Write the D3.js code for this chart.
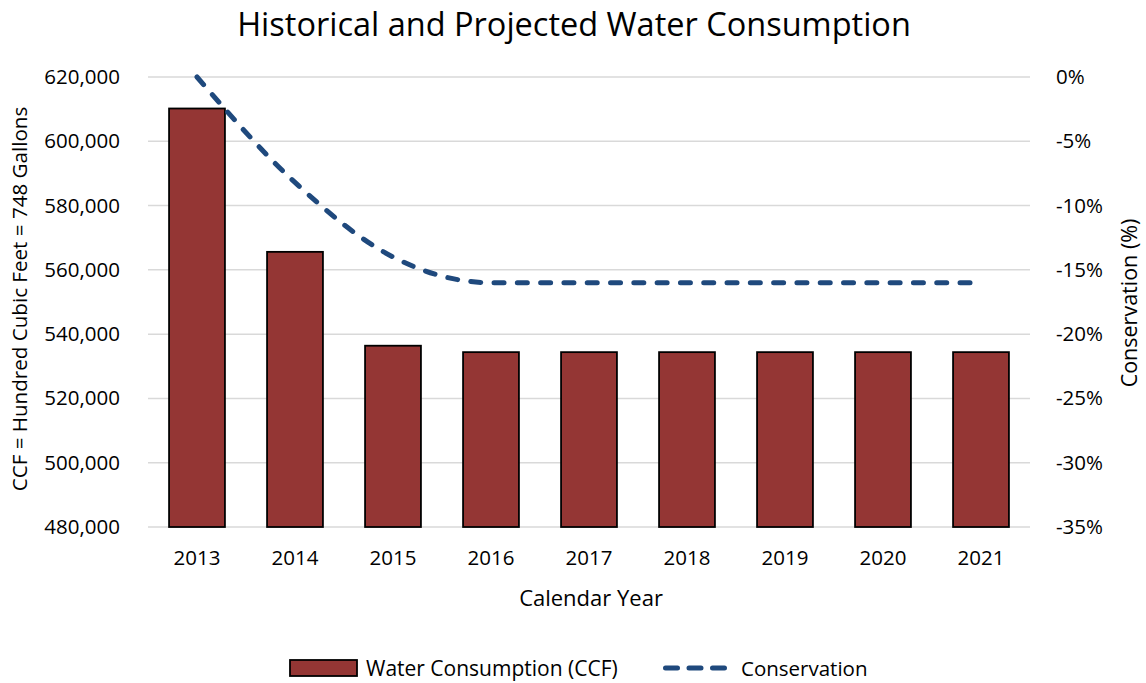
<!DOCTYPE html>
<html><head><meta charset="utf-8">
<script src="https://cdn.jsdelivr.net/npm/d3@7"></script>
<style>body{margin:0;background:#fff;} text{font-family:"Open Sans",sans-serif;fill:#000;}</style>
</head><body>
<svg id="chart" width="1146" height="683"></svg>
<script>
const years = ["2013","2014","2015","2016","2017","2018","2019","2020","2021"];
const consumption = [610200, 565600, 536400, 534400, 534400, 534400, 534400, 534400, 534400];
const conservation = [0, -8.2, -14.0, -16, -16, -16, -16, -16, -16];
const leftTicks = [480000,500000,520000,540000,560000,580000,600000,620000];
const rightTicks = [0,-5,-10,-15,-20,-25,-30,-35];

const svg = d3.select("#chart");
const m = {l:148, r:1030, t:77, b:527};
const x = d3.scaleBand().domain(years).range([m.l, m.r]).paddingInner(0.43).paddingOuter(0.215);
const yL = d3.scaleLinear().domain([480000, 620000]).range([m.b, m.t]);
const yR = d3.scaleLinear().domain([-35, 0]).range([m.b, m.t]);
const tickFont = "20.5px";

// gridlines
svg.append("g").selectAll("line").data(leftTicks).join("line")
  .attr("x1", m.l).attr("x2", m.r).attr("y1", d=>yL(d)).attr("y2", d=>yL(d))
  .attr("stroke", "#d9d9d9").attr("stroke-width", 1.5);

// bars
svg.append("g").selectAll("rect").data(consumption).join("rect")
  .attr("x", (d,i)=>x(years[i])).attr("width", x.bandwidth())
  .attr("y", d=>yL(d)).attr("height", d=>yL(480000)-yL(d))
  .attr("fill", "#943634").attr("stroke", "#000").attr("stroke-width", 1.8);

// line
const line = d3.line().x((d,i)=>x(years[i])+x.bandwidth()/2).y(d=>yR(d)).curve(d3.curveMonotoneX);
svg.append("path").datum(conservation).attr("d", line)
  .attr("fill","none").attr("stroke","#1f497d").attr("stroke-width",5)
  .attr("stroke-linecap","round").attr("stroke-dasharray","10,13.3");

// axes
const fmt = d3.format(",");
const axL = d3.axisLeft(yL).tickValues(leftTicks).tickFormat(fmt).tickSize(0).tickPadding(28);
const gL = svg.append("g").attr("transform", `translate(${m.l},0)`).call(axL);
gL.select(".domain").remove();
gL.selectAll("text").style("font-size",tickFont).style("font-family","'Open Sans',sans-serif").attr("fill","#000");

const axR = d3.axisRight(yR).tickValues(rightTicks).tickFormat(d=>d+"%").tickSize(0).tickPadding(26);
const gR = svg.append("g").attr("transform", `translate(${m.r},0)`).call(axR);
gR.select(".domain").remove();
gR.selectAll("text").style("font-size",tickFont).style("font-family","'Open Sans',sans-serif").attr("fill","#000");

const axB = d3.axisBottom(x).tickSize(0).tickPadding(23);
const gB = svg.append("g").attr("transform", `translate(0,${m.b})`).call(axB);
gB.select(".domain").remove();
gB.selectAll("text").style("font-size",tickFont).style("font-family","'Open Sans',sans-serif").attr("fill","#000");

// titles
svg.append("text").attr("x", 574).attr("y", 36).attr("text-anchor","middle")
  .style("font-size","32.5px").text("Historical and Projected Water Consumption");
svg.append("text").attr("x", 591).attr("y", 606).attr("text-anchor","middle")
  .style("font-size","22px").text("Calendar Year");
svg.append("text").attr("transform", `translate(27,299) rotate(-90)`).attr("text-anchor","middle")
  .style("font-size","20.6px").text("CCF = Hundred Cubic Feet = 748 Gallons");
svg.append("text").attr("transform", `translate(1137,303) rotate(-90)`).attr("text-anchor","middle")
  .style("font-size","21.5px").text("Conservation (%)");

// legend
const lg = svg.append("g");
lg.append("rect").attr("x", 290).attr("y", 660).attr("width", 67).attr("height", 16)
  .attr("fill","#943634").attr("stroke","#000").attr("stroke-width",1.8);
lg.append("text").attr("x", 366).attr("y", 676).style("font-size","21px").text("Water Consumption (CCF)");
lg.append("line").attr("x1", 665.5).attr("x2", 724.5).attr("y1", 668).attr("y2", 668)
  .attr("stroke","#1f497d").attr("stroke-width",5).attr("stroke-linecap","round").attr("stroke-dasharray","12,11.5");
lg.append("text").attr("x", 741).attr("y", 676).style("font-size","20.5px").text("Conservation");
</script>
</body></html>
